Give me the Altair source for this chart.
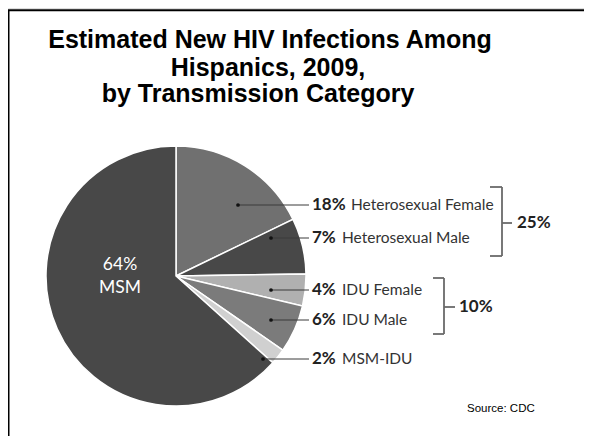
import altair as alt
import pandas as pd

# ---- data ----
categories = ["Heterosexual Female", "Heterosexual Male", "IDU Female",
              "IDU Male", "MSM-IDU", "MSM"]
percents = [18, 7, 4, 6, 2, 64]
slice_colors = ["#707070", "#484848", "#b0b0b0", "#7b7b7b", "#d0d0d0", "#484848"]
title_lines = ["Estimated New HIV Infections Among",
               "Hispanics, 2009,",
               "by Transmission Category"]
source_text = "Source: CDC"

df = pd.DataFrame({"category": categories, "percent": percents,
                   "order": list(range(len(categories)))})
df["pct_label"] = df["percent"].astype(str) + "%"
df["digits"] = df["percent"].astype(str).str.len()
ann = df[df["category"] != "MSM"].copy()

het_total = percents[0] + percents[1]
idu_total = percents[2] + percents[3]

# ---- layout (pixels in chart coordinates) ----
W, H = 576, 428
CX, CY, R = 168, 268, 130
LABEL_Y = [197, 230, 282, 312, 351]
DOT_X = [230, 263, 263, 263, 255]
LABEL_FONT = "Lato"
slot = [0, 1, 2, 3, 4]
y_scale = alt.Scale(domain=slot, range=LABEL_Y, nice=False, zero=False)
dot_x_scale = alt.Scale(domain=slot, range=DOT_X, nice=False, zero=False)

one = pd.DataFrame({"k": [0]})


def seg(x1, y1, x2, y2, color="#6a6a6a", width=1.8):
    return alt.Chart(one).mark_rule(color=color, strokeWidth=width).encode(
        x=alt.value(x1), x2=alt.value(x2), y=alt.value(y1), y2=alt.value(y2))


def txt(s, x, y, size, weight="normal", font=LABEL_FONT, color="#222222", align="left"):
    return alt.Chart(one).mark_text(
        text=s, fontSize=size, fontWeight=weight, font=font, color=color,
        align=align, baseline="middle").encode(x=alt.value(x), y=alt.value(y))


pie = alt.Chart(df).mark_arc(radius=R, stroke="white", strokeWidth=1.5).encode(
    theta=alt.Theta("percent:Q", stack=True),
    order=alt.Order("order:Q"),
    color=alt.Color("category:N", scale=alt.Scale(domain=categories, range=slice_colors),
                    legend=None),
    x=alt.value(CX), y=alt.value(CY))

leader = alt.Chart(ann).mark_rule(color="#3a3a3a", strokeWidth=1).encode(
    x=alt.X("order:Q", scale=dot_x_scale, axis=None), x2=alt.value(301),
    y=alt.Y("order:Q", scale=y_scale, axis=None))

dots = alt.Chart(ann).mark_circle(size=14, color="#111111", opacity=1).encode(
    x=alt.X("order:Q", scale=dot_x_scale, axis=None),
    y=alt.Y("order:Q", scale=y_scale, axis=None))

pct_text = alt.Chart(ann).mark_text(
    align="left", baseline="middle", fontSize=17, fontWeight="bold",
    font=LABEL_FONT, color="#222222").encode(
    x=alt.value(304),
    y=alt.Y("order:Q", scale=y_scale, axis=None),
    text="pct_label:N")

name_text = alt.Chart(ann).mark_text(
    align="left", baseline="middle", fontSize=15.5, font=LABEL_FONT,
    color="#333333").encode(
    x=alt.X("digits:Q", scale=alt.Scale(domain=[1, 2], range=[334, 343], nice=False,
                                        zero=False), axis=None),
    y=alt.Y("order:Q", scale=y_scale, axis=None),
    text="category:N")

layers = [pie, leader, dots, pct_text, name_text]

# brackets for groups
layers += [
    seg(494, 179, 494, 248), seg(482, 179, 494, 179), seg(482, 248, 494, 248),
    seg(494, 215, 504, 215),
    seg(436, 270, 436, 326), seg(425, 270, 436, 270), seg(425, 326, 436, 326),
    seg(436, 299, 447, 299),
    txt(f"{het_total}%", 509, 215, 17, "bold"),
    txt(f"{idu_total}%", 451, 299, 17, "bold"),
]

# MSM label inside pie
layers += [
    txt(f"{percents[5]}%", 112, 257, 17.5, color="white", align="center"),
    txt(categories[5], 112, 280, 17.5, color="white", align="center"),
]

# title
title_y = [32, 60, 86]
title_x = [262, 260, 250]
for s, tx, ty in zip(title_lines, title_x, title_y):
    layers.append(txt(s, tx, ty, 25, "bold", font="Liberation Sans", color="black",
                      align="center"))

layers.append(txt(source_text, 459, 401, 11.5, font="Liberation Sans", color="black"))

# slide frame (top and left edges)
layers += [seg(0, 2.3, W, 2.3, color="black", width=2),
           seg(0.5, 2.3, 0.5, H, color="black", width=2)]

chart = alt.layer(*layers).resolve_scale(x="independent", y="independent").properties(
    width=W, height=H, padding=0, autosize="none"
).configure_view(stroke=None).configure(background="white")

chart.save("out.html", embed_options={"renderer": "svg", "actions": False})
